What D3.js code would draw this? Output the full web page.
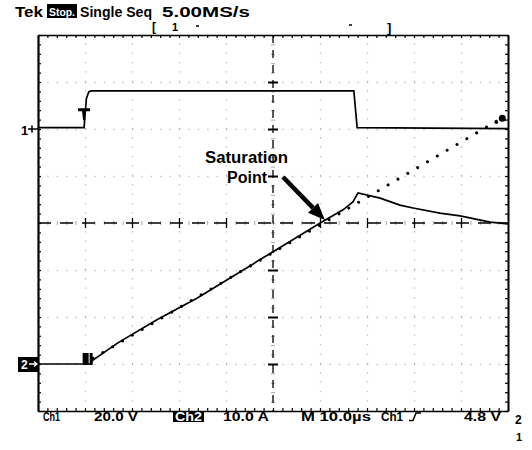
<!DOCTYPE html>
<html>
<head>
<meta charset="utf-8">
<script src="https://cdn.jsdelivr.net/npm/d3@7"></script>
<style>
  body { margin: 0; background: #fff; }
  svg text { font-family: "Liberation Sans", Arial, sans-serif; font-weight: bold; fill: #000; }
</style>
</head>
<body>
<div id="scope"></div>
<script>
// Ch1 : gate drive voltage, 20 V/div (time in µs from left edge of screen)
var ch1Time = [0, 9.8, 10.3, 10.8, 11.3, 67.2, 67.9, 100];
var ch1Volts = [0.6, 0.6, 13.0, 15.8, 16.2, 16.2, 0.6, 0.2];

// Ch2 : inductor current, 10 A/div
var ch2Time = [0, 11.2, 11.7, 17.0, 25.3, 33.8, 50.2, 60.4, 64.9, 67.0, 68.1, 72.8, 77.0, 79.8, 85.5, 89.8, 96.2, 100];
var ch2Amps = [0, 0, 0.85, 4.5, 9.4, 14.0, 24.0, 30.2, 32.8, 34.5, 36.4, 35.3, 33.8, 33.2, 32.1, 31.5, 30.2, 29.8];

// dotted line = ramp without saturation
var refTime = [11.7, 99.0];
var refAmps = [1.2, 52.5];

// saturation point the arrow points at
var satTime = 60.4, satAmps = 30.2;

// screen readouts
var headerText = ["Tek", "Stop.", "Single Seq", "5.00MS/s"];
var footerText = ["Ch1", "20.0 V", "Ch2", "10.0 A", "M 10.0\u00b5s", "Ch1", "4.8 V"];
var noteText = ["Saturation", "Point"];

// set the dimensions and margins of the screen (10 x 8 divisions of 47px)
var margin = {top: 35, right: 24, bottom: 39, left: 38},
  width = 470,
  height = 376;

var svg = d3.select("#scope")
  .append("svg")
  .attr("width", 532)
  .attr("height", 450);

var g = svg.append("g")
  .attr("transform", "translate(" + margin.left + "," + margin.top + ")");

// scales
var x = d3.scaleLinear().domain([0, 100]).range([0, width]);
var div = d3.scaleLinear().domain([-4, 4]).range([height, 0]);
var y1 = d3.scaleLinear().domain([-120, 40]).range([height, 0]);   // ch1 ground 2 div up
var y2 = d3.scaleLinear().domain([-10, 70]).range([height, 0]);    // ch2 ground 3 div down

var majorT = [10, 20, 30, 40, 60, 70, 80, 90];
var minorT = d3.range(0, 100.01, 2);
var majorDiv = [-3, -2, -1, 1, 2, 3];
var minorDiv = d3.range(-20, 21).map(function(d) { return d / 5; });

function clean(sel) {
  sel.selectAll("text").remove();
}

// dotted graticule
g.append("g")
  .attr("transform", "translate(0," + height + ")")
  .call(d3.axisBottom(x).tickValues(majorT).tickSize(-height).tickFormat(""))
  .call(function(s) { s.select(".domain").remove(); clean(s); })
  .selectAll("line")
  .attr("stroke", "#000")
  .attr("stroke-width", 1.3)
  .attr("stroke-dasharray", "1.3,8.1")
  .attr("opacity", 0.25);

g.append("g")
  .call(d3.axisLeft(div).tickValues(majorDiv).tickSize(-width).tickFormat(""))
  .call(function(s) { s.select(".domain").remove(); clean(s); })
  .selectAll("line")
  .attr("stroke", "#000")
  .attr("stroke-width", 1.3)
  .attr("stroke-dasharray", "1.3,8.1")
  .attr("opacity", 0.25);

// center lines
g.append("line")
  .attr("x1", 0).attr("x2", width)
  .attr("y1", div(0)).attr("y2", div(0))
  .attr("stroke", "#000").attr("stroke-width", 1.3)
  .attr("stroke-dasharray", "13,9");
g.append("line")
  .attr("x1", x(50)).attr("x2", x(50))
  .attr("y1", 0).attr("y2", height)
  .attr("stroke", "#000").attr("stroke-width", 1.3)
  .attr("stroke-dasharray", "8,7");

g.append("g")
  .attr("transform", "translate(0," + (div(0) - 2) + ")")
  .call(d3.axisBottom(x).tickValues(minorT).tickSize(4).tickFormat(""))
  .call(function(s) { s.select(".domain").remove(); clean(s); })
  .selectAll("line").attr("stroke-width", 1).attr("opacity", 0.35);
g.append("g")
  .attr("transform", "translate(0," + (div(0) - 5) + ")")
  .call(d3.axisBottom(x).tickValues(majorT).tickSize(10).tickFormat(""))
  .call(function(s) { s.select(".domain").remove(); clean(s); })
  .selectAll("line").attr("stroke-width", 1.3);
g.append("g")
  .attr("transform", "translate(" + (x(50) + 2) + ",0)")
  .call(d3.axisLeft(div).tickValues(minorDiv).tickSize(4).tickFormat(""))
  .call(function(s) { s.select(".domain").remove(); clean(s); })
  .selectAll("line").attr("stroke-width", 1).attr("opacity", 0.35);
g.append("g")
  .attr("transform", "translate(" + (x(50) + 5) + ",0)")
  .call(d3.axisLeft(div).tickValues(majorDiv).tickSize(10).tickFormat(""))
  .call(function(s) { s.select(".domain").remove(); clean(s); })
  .selectAll("line").attr("stroke-width", 2);

// frame with inward minor ticks
var frameTop = g.append("g")
  .call(d3.axisTop(x).tickValues(minorT).tickSizeInner(-3).tickSizeOuter(0).tickFormat(""));
var frameBottom = g.append("g")
  .attr("transform", "translate(0," + height + ")")
  .call(d3.axisBottom(x).tickValues(minorT).tickSizeInner(-3).tickSizeOuter(0).tickFormat(""));
var frameLeft = g.append("g")
  .call(d3.axisLeft(div).tickValues(minorDiv).tickSizeInner(-3).tickSizeOuter(0).tickFormat(""));
var frameRight = g.append("g")
  .attr("transform", "translate(" + width + ",0)")
  .call(d3.axisRight(div).tickValues(minorDiv).tickSizeInner(-3).tickSizeOuter(0).tickFormat(""));
[frameTop, frameBottom, frameLeft, frameRight].forEach(function(s) {
  clean(s);
  s.select(".domain").attr("stroke-width", 1.6);
  s.selectAll("line").attr("stroke-width", 1.2);
});
frameLeft.select(".domain").attr("stroke-width", 2.2);
frameRight.select(".domain").attr("stroke-width", 2);

// traces
var line1 = d3.line()
  .x(function(d) { return x(d[0]); })
  .y(function(d) { return y1(d[1]); });
var line2 = d3.line()
  .x(function(d) { return x(d[0]); })
  .y(function(d) { return y2(d[1]); });

g.append("path")
  .datum(d3.zip(refTime, refAmps))
  .attr("d", line2)
  .attr("fill", "none")
  .attr("stroke", "#000")
  .attr("stroke-width", 3)
  .attr("stroke-linecap", "round")
  .attr("stroke-dasharray", "0.01,11.4");

g.append("path")
  .datum(d3.zip(ch1Time, ch1Volts))
  .attr("d", line1)
  .attr("fill", "none")
  .attr("stroke", "#000")
  .attr("stroke-width", 1.7);

g.append("path")
  .datum(d3.zip(ch2Time, ch2Amps))
  .attr("d", line2)
  .attr("fill", "none")
  .attr("stroke", "#000")
  .attr("stroke-width", 1.7);

// blob at end of the dotted line
g.append("circle")
  .attr("cx", x(refTime[1]) - 1).attr("cy", y2(refAmps[1]) + 1)
  .attr("r", 3.5).attr("fill", "#000");
g.append("circle")
  .attr("cx", x(refTime[1]) - 7).attr("cy", y2(refAmps[1]) + 5)
  .attr("r", 1.8).attr("fill", "#000");

// trigger "T" on ch1 rising edge
var tx = x(ch1Time[1]) + 1, ty = y1(8);
g.append("path")
  .attr("d", "M" + (tx - 7) + "," + (ty - 2) + "h12v3h-4.5l-1,9h-1.5l-1,-9h-4z")
  .attr("fill", "#000");

// ch2 marker block near trigger
var bx = x(ch2Time[1]) - 2, by = y2(0);
g.append("rect").attr("x", bx - 6).attr("y", by - 11).attr("width", 6).attr("height", 12).attr("fill", "#000");
g.append("rect").attr("x", bx + 1).attr("y", by - 11).attr("width", 3).attr("height", 12).attr("fill", "#000");

// channel ground markers
svg.append("text").attr("x", 21).attr("y", margin.top + div(2) + 6)
  .style("font-size", "13px").text("1");
svg.append("path")
  .attr("d", "M28," + (margin.top + div(2)) + "H38M32," + (margin.top + div(2) - 3.5) + "v7")
  .attr("stroke", "#000").attr("stroke-width", 1.6);
var g2y = margin.top + div(-3);
svg.append("rect").attr("x", 18).attr("y", g2y - 7).attr("width", 21).attr("height", 15).attr("fill", "#000");
svg.append("text").attr("x", 21).attr("y", g2y + 5)
  .style("font-size", "12px").style("fill", "#fff").text("2");
svg.append("path")
  .attr("d", "M29," + g2y + "H37M34," + (g2y - 2.5) + "L37," + g2y + "L34," + (g2y + 2.5))
  .attr("stroke", "#fff").attr("stroke-width", 1.4).attr("fill", "none");

// header
var hdr = [
  {x: 15, w: 28, s: 15}, {x: 49, w: 26, s: 11}, {x: 80, w: 72, s: 14}, {x: 162, w: 88, s: 15}
];
svg.append("rect").attr("x", 47).attr("y", 4).attr("width", 30).attr("height", 14).attr("fill", "#000");
headerText.forEach(function(t, i) {
  svg.append("text")
    .attr("x", hdr[i].x).attr("y", i === 1 ? 15.5 : 16.5)
    .attr("textLength", hdr[i].w).attr("lengthAdjust", "spacingAndGlyphs")
    .style("font-size", hdr[i].s + "px")
    .style("fill", i === 1 ? "#fff" : "#000")
    .text(t);
});

// record bar markers
svg.append("text").attr("x", 152).attr("y", 31).style("font-size", "12px").text("[");
svg.append("text").attr("x", 172).attr("y", 31).style("font-size", "11px").text("1");
svg.append("text").attr("x", 387).attr("y", 32).style("font-size", "13px").text("]");
svg.append("line").attr("x1", 196).attr("x2", 199).attr("y1", 26).attr("y2", 26).attr("stroke", "#000").attr("stroke-width", 1.5);
svg.append("line").attr("x1", 349).attr("x2", 352).attr("y1", 25).attr("y2", 25).attr("stroke", "#000").attr("stroke-width", 1.5);

// footer
var ftr = [
  {x: 43, w: 17}, {x: 94, w: 44}, {x: 175, w: 27}, {x: 223, w: 46},
  {x: 301, w: 70}, {x: 381, w: 22}, {x: 464, w: 37}
];
svg.append("rect").attr("x", 173).attr("y", 412).attr("width", 31).attr("height", 10).attr("fill", "#000");
footerText.forEach(function(t, i) {
  svg.append("text")
    .attr("x", ftr[i].x).attr("y", 421)
    .attr("textLength", ftr[i].w).attr("lengthAdjust", "spacingAndGlyphs")
    .style("font-size", "12px")
    .style("fill", i === 2 ? "#fff" : "#000")
    .text(t);
});
// rising edge symbol
svg.append("path")
  .attr("d", "M409,420.5h4l3,-7.5h5")
  .attr("fill", "none").attr("stroke", "#000").attr("stroke-width", 1.5);
svg.append("text").attr("x", 515).attr("y", 424).style("font-size", "12px").text("2");
svg.append("text").attr("x", 516).attr("y", 441).style("font-size", "11px").text("1");

// annotation
svg.append("text").attr("x", 205).attr("y", 163)
  .attr("textLength", 83).attr("lengthAdjust", "spacingAndGlyphs")
  .style("font-size", "16px").text(noteText[0]);
svg.append("text").attr("x", 227).attr("y", 183)
  .attr("textLength", 40).attr("lengthAdjust", "spacingAndGlyphs")
  .style("font-size", "16px").text(noteText[1]);

var tip = [margin.left + x(satTime) + 3, margin.top + y2(satAmps) - 2],
  start = [283, 177];
var dx = tip[0] - start[0], dy = tip[1] - start[1], len = Math.sqrt(dx * dx + dy * dy);
var ux = dx / len, uy = dy / len;
var base = [tip[0] - 17 * ux, tip[1] - 17 * uy];
svg.append("line")
  .attr("x1", start[0]).attr("y1", start[1])
  .attr("x2", base[0]).attr("y2", base[1])
  .attr("stroke", "#000").attr("stroke-width", 4.5);
svg.append("path")
  .attr("d", "M" + tip[0] + "," + tip[1] +
    "L" + (base[0] - 7 * uy) + "," + (base[1] + 7 * ux) +
    "L" + (base[0] + 7 * uy) + "," + (base[1] - 7 * ux) + "Z")
  .attr("fill", "#000");
</script>
</body>
</html>
